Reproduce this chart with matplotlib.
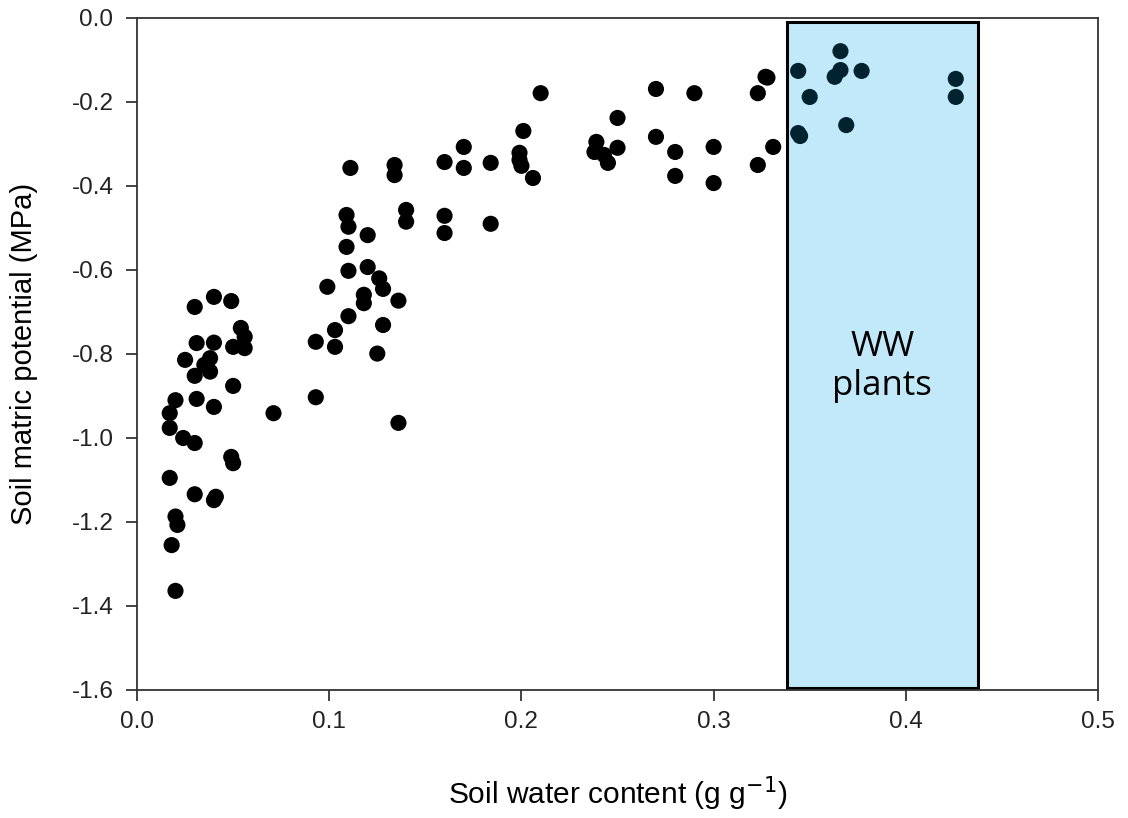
import matplotlib.pyplot as plt
import matplotlib.patches as patches

plt.rcParams['font.family'] = ['Liberation Sans', 'DejaVu Sans']
plt.rcParams['axes.unicode_minus'] = False

# soil water content (g g-1)
swc = [0.030, 0.040, 0.049, 0.054, 0.056, 0.056, 0.050, 0.031, 0.040, 0.025,
       0.038, 0.038, 0.030, 0.050, 0.020, 0.031, 0.040, 0.017, 0.017, 0.024,
       0.030, 0.071, 0.049, 0.050, 0.017, 0.030, 0.040, 0.041, 0.020, 0.021,
       0.018, 0.020, 0.035,
       0.111, 0.134, 0.134, 0.170, 0.160, 0.170, 0.140, 0.140, 0.160, 0.160,
       0.109, 0.110, 0.120, 0.109, 0.110, 0.120, 0.126, 0.128, 0.099, 0.118,
       0.118, 0.136, 0.110, 0.103, 0.128, 0.093, 0.103, 0.125, 0.093, 0.136,
       0.210, 0.270, 0.290, 0.327, 0.323, 0.201, 0.250, 0.184, 0.199, 0.199,
       0.200, 0.206, 0.239, 0.238, 0.243, 0.245, 0.250, 0.270, 0.280, 0.280,
       0.300, 0.300, 0.331, 0.323, 0.184, 0.328,
       0.366, 0.344, 0.366, 0.363, 0.377, 0.350, 0.426, 0.426, 0.369, 0.344, 0.345]

# soil matric potential (MPa)
smp = [-0.688, -0.664, -0.674, -0.738, -0.759, -0.786, -0.783, -0.774, -0.773, -0.814,
       -0.810, -0.842, -0.852, -0.876, -0.910, -0.907, -0.926, -0.941, -0.976, -1.000,
       -1.012, -0.941, -1.045, -1.060, -1.095, -1.134, -1.148, -1.140, -1.187, -1.207,
       -1.255, -1.364, -0.826,
       -0.357, -0.350, -0.374, -0.307, -0.343, -0.357, -0.457, -0.485, -0.471, -0.512,
       -0.469, -0.497, -0.517, -0.545, -0.602, -0.593, -0.620, -0.645, -0.640, -0.659,
       -0.679, -0.673, -0.710, -0.743, -0.731, -0.771, -0.783, -0.799, -0.903, -0.964,
       -0.179, -0.169, -0.179, -0.140, -0.179, -0.269, -0.238, -0.345, -0.321, -0.338,
       -0.352, -0.381, -0.295, -0.319, -0.326, -0.345, -0.309, -0.283, -0.319, -0.376,
       -0.307, -0.393, -0.307, -0.350, -0.490, -0.142,
       -0.079, -0.126, -0.124, -0.140, -0.126, -0.188, -0.145, -0.188, -0.255, -0.274, -0.281]

xticks = [0.0, 0.1, 0.2, 0.3, 0.4, 0.5]
yticks = [0.0, -0.2, -0.4, -0.6, -0.8, -1.0, -1.2, -1.4, -1.6]

# well-watered box
ww_x0, ww_x1 = 0.338, 0.4375
ww_y0, ww_y1 = -1.595, -0.0095

fig = plt.figure(figsize=(11.28, 8.18), dpi=100)
ax = fig.add_axes([0.1215, 0.1565, 0.8519, 0.8215])

box = patches.Rectangle((ww_x0, ww_y0), ww_x1 - ww_x0, ww_y1 - ww_y0,
                        facecolor='#c2e9f9', edgecolor='black', linewidth=2.2, zorder=1)
ax.add_patch(box)

colors = ['#01232f' if ww_x0 <= x <= ww_x1 else 'black' for x in swc]
ax.scatter(swc, smp, s=135, c=colors, edgecolors='none', zorder=3)

ax.text((ww_x0 + ww_x1) / 2, -0.83, 'WW\nplants', ha='center', va='center',
        fontsize=25, family=['Open Sans', 'DejaVu Sans'], linespacing=1.22, zorder=4)

ax.set_xlim(0, 0.5)
ax.set_ylim(-1.6, 0)
ax.set_xticks(xticks)
ax.set_xticklabels([f'{t:.1f}' for t in xticks])
ax.set_yticks(yticks)
ax.set_yticklabels([f'{t:.1f}' for t in yticks])
ax.tick_params(direction='out', length=8, width=1.2, labelsize=17.5, colors='#222222')
ax.tick_params(axis='y', pad=9)
ax.tick_params(axis='x', pad=7)
for sp in ax.spines.values():
    sp.set_linewidth(1.3)
    sp.set_color('#333333')

ax.set_xlabel('Soil water content (g g$^{-1}$)', fontsize=21.5, labelpad=30)
ax.set_ylabel('Soil matric potential (MPa)', fontsize=21, labelpad=24)

fig.savefig('out.png', dpi=100)
